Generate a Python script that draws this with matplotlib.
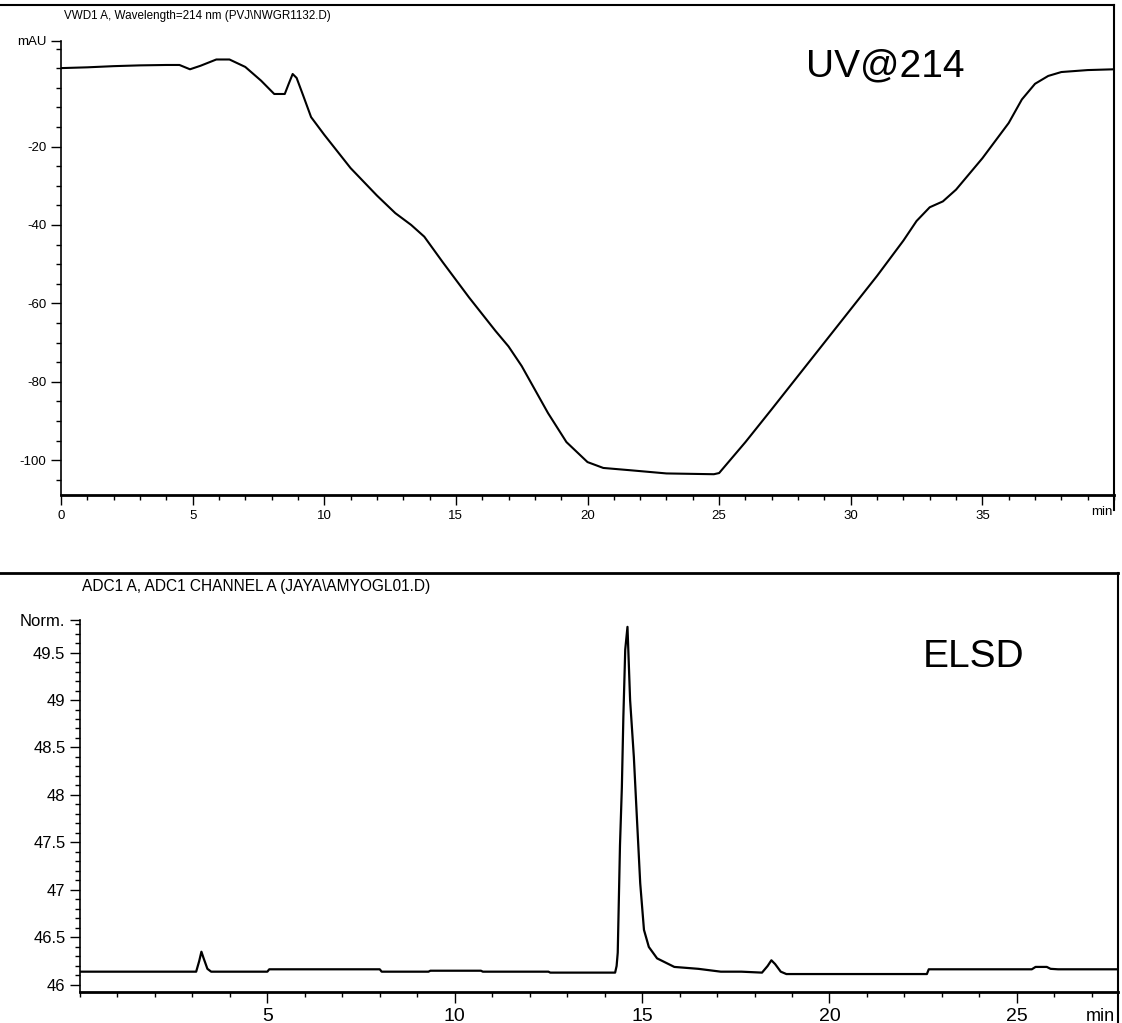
import numpy as np
import matplotlib.pyplot as plt
from matplotlib.lines import Line2D
from matplotlib.ticker import MultipleLocator, FixedLocator

plt.rcParams['font.family'] = ['Liberation Sans', 'DejaVu Sans']

# UV trace at 214 nm (time in min, signal in mAU)
uv_time = [0.0, 1.0, 2.0, 3.0, 4.0, 4.5, 4.9, 5.3, 5.9, 6.4, 7.0, 7.6, 8.1, 8.5, 8.65, 8.8,
           8.95, 9.2, 9.5, 10.0, 11.0, 12.0, 12.7, 13.3, 13.8, 14.5, 15.5, 16.5, 17.0, 17.5,
           18.5, 19.2, 20.0, 20.6, 21.65, 23.0, 24.8, 25.0, 26.0, 27.0, 28.0, 29.0, 30.0,
           31.0, 32.0, 32.5, 33.0, 33.5, 34.0, 35.0, 36.0, 36.5, 37.0, 37.5, 38.0, 39.0, 40.0]
uv_signal = [0.0, 0.2, 0.5, 0.7, 0.8, 0.8, -0.3, 0.6, 2.2, 2.2, 0.3, -3.2, -6.6, -6.6, -4.0, -1.5,
             -2.5, -7.0, -12.5, -17.0, -25.5, -32.5, -37.0, -40.0, -43.0, -49.5, -58.5, -67.0,
             -71.0, -76.0, -88.0, -95.4, -100.5, -102.0, -102.6, -103.4, -103.6, -103.3,
             -95.4, -87.0, -78.5, -70.0, -61.5, -53.0, -44.0, -39.0, -35.5, -34.0, -31.0,
             -23.0, -14.0, -8.0, -4.0, -2.0, -1.0, -0.5, -0.3]

# ELSD trace (time in min, normalised signal)
elsd_time = [0.0, 3.1, 3.18, 3.24, 3.3, 3.4, 3.5, 5.0, 5.05, 8.0, 8.05, 9.3, 9.35, 10.7, 10.75,
             12.5, 12.55, 14.28, 14.32, 14.35, 14.41, 14.46, 14.5, 14.55, 14.61, 14.68,
             14.78, 14.86, 14.95, 15.05, 15.18, 15.4, 15.86, 16.5, 17.1, 17.65, 18.2, 18.35,
             18.45, 18.55, 18.7, 18.85, 22.6, 22.65, 25.4, 25.5, 25.8, 25.9, 26.1, 27.7]
elsd_signal = [46.14, 46.14, 46.25, 46.35, 46.28, 46.17, 46.14, 46.14, 46.165, 46.165, 46.14,
               46.14, 46.15, 46.15, 46.14, 46.14, 46.13, 46.13, 46.2, 46.34, 47.47, 48.08,
               48.82, 49.53, 49.77, 49.0, 48.4, 47.77, 47.07, 46.58, 46.4, 46.28, 46.19,
               46.17, 46.14, 46.14, 46.13, 46.2, 46.26, 46.22, 46.14, 46.115, 46.115, 46.165,
               46.165, 46.19, 46.19, 46.17, 46.165, 46.165]

uv_yticks = [-100, -80, -60, -40, -20, 7]
uv_ylabels = ['-100', '-80', '-60', '-40', '-20', 'mAU']
uv_xticks = [0, 5, 10, 15, 20, 25, 30, 35]
elsd_yticks = [46, 46.5, 47, 47.5, 48, 48.5, 49, 49.5, 49.84]
elsd_ylabels = ['46', '46.5', '47', '47.5', '48', '48.5', '49', '49.5', 'Norm.']
elsd_xticks = [5, 10, 15, 20, 25]

W, H = 1122, 1023
fig = plt.figure(figsize=(W / 100, H / 100), dpi=100)


def box(l, t, r, b):
    return [l / W, (H - b) / H, (r - l) / W, (b - t) / H]


# ---- top panel: UV ----
ax1 = fig.add_axes(box(61, 5, 1114, 495))
ax1.plot(uv_time, uv_signal, color='black', lw=1.5)
ax1.set_xlim(0, 40)
ax1.set_ylim(-108.9, 16.1)
ax1.set_yticks(uv_yticks)
ax1.set_yticklabels(uv_ylabels)
ax1.set_xticks(uv_xticks)
ax1.xaxis.set_minor_locator(MultipleLocator(1))
ax1.yaxis.set_minor_locator(FixedLocator(np.arange(-105, 6, 5)))
ax1.spines['left'].set_bounds(-108.9, 7)
for s in ['top', 'right']:
    ax1.spines[s].set_visible(False)
ax1.spines['left'].set_linewidth(1.2)
ax1.spines['bottom'].set_linewidth(2)
ax1.tick_params(which='major', length=7, width=1, labelsize=9.5, direction='out')
ax1.tick_params(which='minor', length=3.5, width=1, direction='out')
ax1.text(0.999, -0.035, 'min', transform=ax1.transAxes, ha='right', va='center', fontsize=9.5)
ax1.text(28.3, 0.5, 'UV@214', fontsize=28, ha='left', va='center')
fig.text(64 / W, (H - 16) / H, 'VWD1 A, Wavelength=214 nm (PVJ\\NWGR1132.D)',
         fontsize=8.4, ha='left', va='center')

# ---- bottom panel: ELSD ----
ax2 = fig.add_axes(box(80, 573, 1118, 992))
ax2.plot(elsd_time, elsd_signal, color='black', lw=1.6)
ax2.set_xlim(0, 27.7)
ax2.set_ylim(45.926, 50.337)
ax2.set_yticks(elsd_yticks)
ax2.set_yticklabels(elsd_ylabels)
ax2.set_xticks(elsd_xticks)
ax2.xaxis.set_minor_locator(MultipleLocator(1))
ax2.yaxis.set_minor_locator(FixedLocator(np.arange(46.0, 49.85, 0.1)))
ax2.spines['left'].set_bounds(45.926, 49.84)
for s in ['top', 'right']:
    ax2.spines[s].set_visible(False)
ax2.spines['left'].set_linewidth(1.2)
ax2.spines['bottom'].set_linewidth(2)
ax2.tick_params(axis='y', which='major', length=7, width=1, labelsize=12)
ax2.tick_params(axis='x', which='major', length=8, width=1, labelsize=14)
ax2.tick_params(which='minor', length=3.5, width=1)
ax2.text(0.997, -0.058, 'min', transform=ax2.transAxes, ha='right', va='center', fontsize=13)
ax2.text(22.5, 49.45, 'ELSD', fontsize=28, ha='left', va='center')
fig.text(82 / W, (H - 586) / H, 'ADC1 A, ADC1 CHANNEL A (JAYA\\AMYOGL01.D)',
         fontsize=11.2, ha='left', va='center')

# frame lines of the scanned report
fig.add_artist(Line2D([0, 1114 / W], [(H - 5) / H] * 2, color='black', lw=1.5))
fig.add_artist(Line2D([1114 / W] * 2, [(H - 5) / H, (H - 510) / H], color='black', lw=1.5))
fig.add_artist(Line2D([0, 1118 / W], [(H - 573) / H] * 2, color='black', lw=2))
fig.add_artist(Line2D([1118 / W] * 2, [(H - 573) / H, 0], color='black', lw=1.5))

fig.savefig('out.png', dpi=100)
